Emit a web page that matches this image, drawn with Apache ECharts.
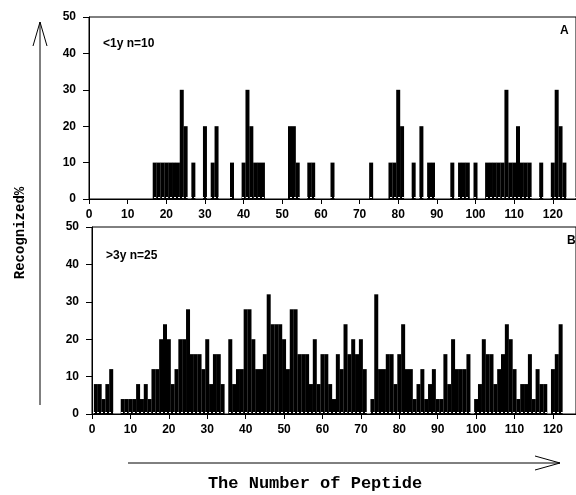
<!DOCTYPE html>
<html>
<head>
<meta charset="utf-8">
<script src="https://cdn.jsdelivr.net/npm/echarts@6/dist/echarts.min.js"></script>
<style>
  html, body { margin: 0; padding: 0; background: #fff; }
  #chart { width: 576px; height: 495px; }
</style>
</head>
<body>
<div id="chart"></div>
<script>
// % recognized per peptide (index 0 = peptide 1)
const youngValues = [
  0, 0, 0, 0, 0, 0, 0, 0, 0, 0,
  0, 0, 0, 0, 0, 0, 10, 10, 10, 10,
  10, 10, 10, 30, 20, 0, 10, 0, 0, 20,
  0, 10, 20, 0, 0, 0, 10, 0, 0, 10,
  30, 20, 10, 10, 10, 0, 0, 0, 0, 0,
  0, 20, 20, 10, 0, 0, 10, 10, 0, 0,
  0, 0, 10, 0, 0, 0, 0, 0, 0, 0,
  0, 0, 10, 0, 0, 0, 0, 10, 10, 30,
  20, 0, 0, 10, 0, 20, 0, 10, 10, 0,
  0, 0, 0, 10, 0, 10, 10, 10, 0, 10,
  0, 0, 10, 10, 10, 10, 10, 30, 10, 10,
  20, 10, 10, 10, 0, 0, 10, 0, 0, 10,
  30, 20, 10
];
const olderValues = [
  8, 8, 4, 8, 12, 0, 0, 4, 4, 4,
  4, 8, 4, 8, 4, 12, 12, 20, 24, 20,
  8, 12, 20, 20, 28, 16, 16, 16, 12, 20,
  8, 16, 16, 8, 0, 20, 8, 12, 12, 28,
  28, 20, 12, 12, 16, 32, 24, 24, 24, 20,
  12, 28, 28, 16, 16, 16, 8, 20, 8, 16,
  16, 8, 4, 16, 12, 24, 16, 20, 16, 20,
  12, 0, 4, 32, 12, 12, 16, 16, 8, 16,
  24, 12, 12, 4, 8, 12, 4, 8, 12, 4,
  4, 16, 8, 20, 12, 12, 12, 16, 0, 4,
  8, 20, 16, 16, 8, 12, 16, 24, 20, 12,
  4, 8, 8, 16, 4, 12, 8, 8, 0, 12,
  16, 24
];
const xTicks = [0, 10, 20, 30, 40, 50, 60, 70, 80, 90, 100, 110, 120];
const panelLabels = ['<1y n=10', '>3y n=25'];
const panelLetters = ['A', 'B'];

const tickFont = { color: '#000', fontFamily: 'Liberation Sans, Arial', fontWeight: 'bold', fontSize: 12 };

function xAxisFor(gridIndex) {
  return {
    type: 'value', gridIndex: gridIndex, min: 0, max: 126,
    axisLine: { show: true, onZero: false, lineStyle: { color: '#000', width: 1 } },
    axisTick: { show: true, length: 5, customValues: xTicks, lineStyle: { color: '#000' } },
    axisLabel: Object.assign({ margin: 10, customValues: xTicks }, tickFont),
    splitLine: { show: false }
  };
}
function yAxisFor(gridIndex) {
  return {
    type: 'value', gridIndex: gridIndex, min: 0, max: 50, interval: 10,
    axisLine: { show: true, lineStyle: { color: '#000', width: 1 } },
    axisTick: { show: true, length: 6, lineStyle: { color: '#000' } },
    axisLabel: Object.assign({ margin: 13 }, tickFont),
    splitLine: { show: false }
  };
}
function barsFor(values, idx) {
  return {
    type: 'bar', xAxisIndex: idx, yAxisIndex: idx,
    data: values.map((v, i) => [i + 1, v]),
    barWidth: 4,
    itemStyle: { color: '#000' },
    silent: true
  };
}

const chart = echarts.init(document.getElementById('chart'));
chart.setOption({
  animation: false,
  backgroundColor: '#fff',
  grid: [
    { left: 89, top: 17, width: 500, height: 182, show: true, borderColor: '#000', borderWidth: 1 },
    { left: 92, top: 227, width: 498, height: 187, show: true, borderColor: '#000', borderWidth: 1 }
  ],
  xAxis: [xAxisFor(0), xAxisFor(1)],
  yAxis: [yAxisFor(0), yAxisFor(1)],
  series: [barsFor(youngValues, 0), barsFor(olderValues, 1)],
  graphic: [
    // faint dotted base row seen under the bars
    { type: 'line', z: 100, shape: { x1: 90, y1: 197.5, x2: 576, y2: 197.5 }, style: { stroke: '#fff', lineWidth: 1, lineDash: [2, 2] } },
    { type: 'line', z: 100, shape: { x1: 93, y1: 412.5, x2: 576, y2: 412.5 }, style: { stroke: '#fff', lineWidth: 1, lineDash: [2, 2] } },
    { type: 'text', left: 103, top: 38, style: { text: panelLabels[0], font: 'bold 12px Liberation Sans', fill: '#000' } },
    { type: 'text', left: 106, top: 250, style: { text: panelLabels[1], font: 'bold 12px Liberation Sans', fill: '#000' } },
    { type: 'text', left: 560, top: 25, style: { text: panelLetters[0], font: 'bold 12px Liberation Sans', fill: '#000' } },
    { type: 'text', left: 567, top: 235, style: { text: panelLetters[1], font: 'bold 12px Liberation Sans', fill: '#000' } },
    // vertical arrow
    { type: 'line', shape: { x1: 40, y1: 22, x2: 40, y2: 405 }, style: { stroke: '#000', lineWidth: 1 } },
    { type: 'polyline', shape: { points: [[33, 46], [40, 22], [47, 46]] }, style: { stroke: '#000', fill: null, lineWidth: 1 } },
    // horizontal arrow
    { type: 'line', shape: { x1: 128, y1: 463, x2: 560, y2: 463 }, style: { stroke: '#000', lineWidth: 1 } },
    { type: 'polyline', shape: { points: [[535, 456], [560, 463], [535, 470]] }, style: { stroke: '#000', fill: null, lineWidth: 1 } },
    { type: 'text', x: 20, y: 233, rotation: Math.PI / 2,
      style: { text: 'Recognized%', font: 'bold 14px Liberation Mono', fill: '#000', align: 'center', verticalAlign: 'middle' } },
    { type: 'text', x: 315, y: 484,
      style: { text: 'The Number of Peptide', font: 'bold 17px Liberation Mono', fill: '#000', align: 'center', verticalAlign: 'middle' } }
  ]
});
</script>
</body>
</html>
